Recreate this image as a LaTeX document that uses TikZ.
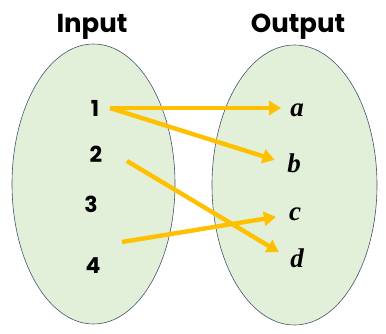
\documentclass[tikz,border=0pt]{standalone}
\usepackage{fontspec}
\setmainfont{Poppins}
\newfontfamily\mathletters{Liberation Serif}
\usetikzlibrary{arrows.meta,positioning}
\definecolor{SetGreen}{HTML}{E2EFD9}
\definecolor{SetEdge}{HTML}{44546A}
\definecolor{MapOrange}{HTML}{FFC000}

\begin{document}
\begin{tikzpicture}[
  x=1pt, y=-1pt,
  setbox/.style={draw=SetEdge, line width=0.6pt, fill=SetGreen},
  title/.style={anchor=base, font=\fontsize{26}{26}\selectfont\bfseries},
  elem/.style={anchor=base, inner sep=0pt, font=\fontsize{22}{22}\selectfont\bfseries},
  img/.style={anchor=base, inner sep=0pt, font=\mathletters\fontsize{27}{27}\selectfont\bfseries\itshape},
  maps/.style={-{Triangle[length=12pt, width=14pt]}, line width=4.4pt, MapOrange, shorten >=13pt}
]
\useasboundingbox (0,0) rectangle (386,334);
% the two sets
\draw[setbox] (93.5,184) ellipse [x radius=81.5, y radius=140];
\draw[setbox] (294.5,185) ellipse [x radius=82.5, y radius=140];
\node[title] (inp) at (92,33) {Input};
\node[title] (outp) at (298,33) {Output};
% domain
\node[elem] (n1) at (95,117) {1};
\node[elem] (n2) at (96,163) {2};
\node[elem] (n3) at (91,213) {3};
\node[elem] (n4) at (93,273) {4};
% codomain
\node[img] (la) at (297,117) {a};
\node[img] (lb) at (294,173) {b};
\node[img] (lc) at (295,221) {c};
\node[img] (ld) at (297,268) {d};
% tails of the arrows
\coordinate (t1) at (110,108);
\coordinate (t2) at (127,161);
\coordinate (t4) at (122,242);
\draw[maps, shorten >=9pt] (t1) -- (la.west |- t1);
\draw[maps] (t1) -- (lb.west);
\draw[maps] (t2) -- (ld.west);
\draw[maps] (t4) -- (lc.west);
\end{tikzpicture}
\end{document}
